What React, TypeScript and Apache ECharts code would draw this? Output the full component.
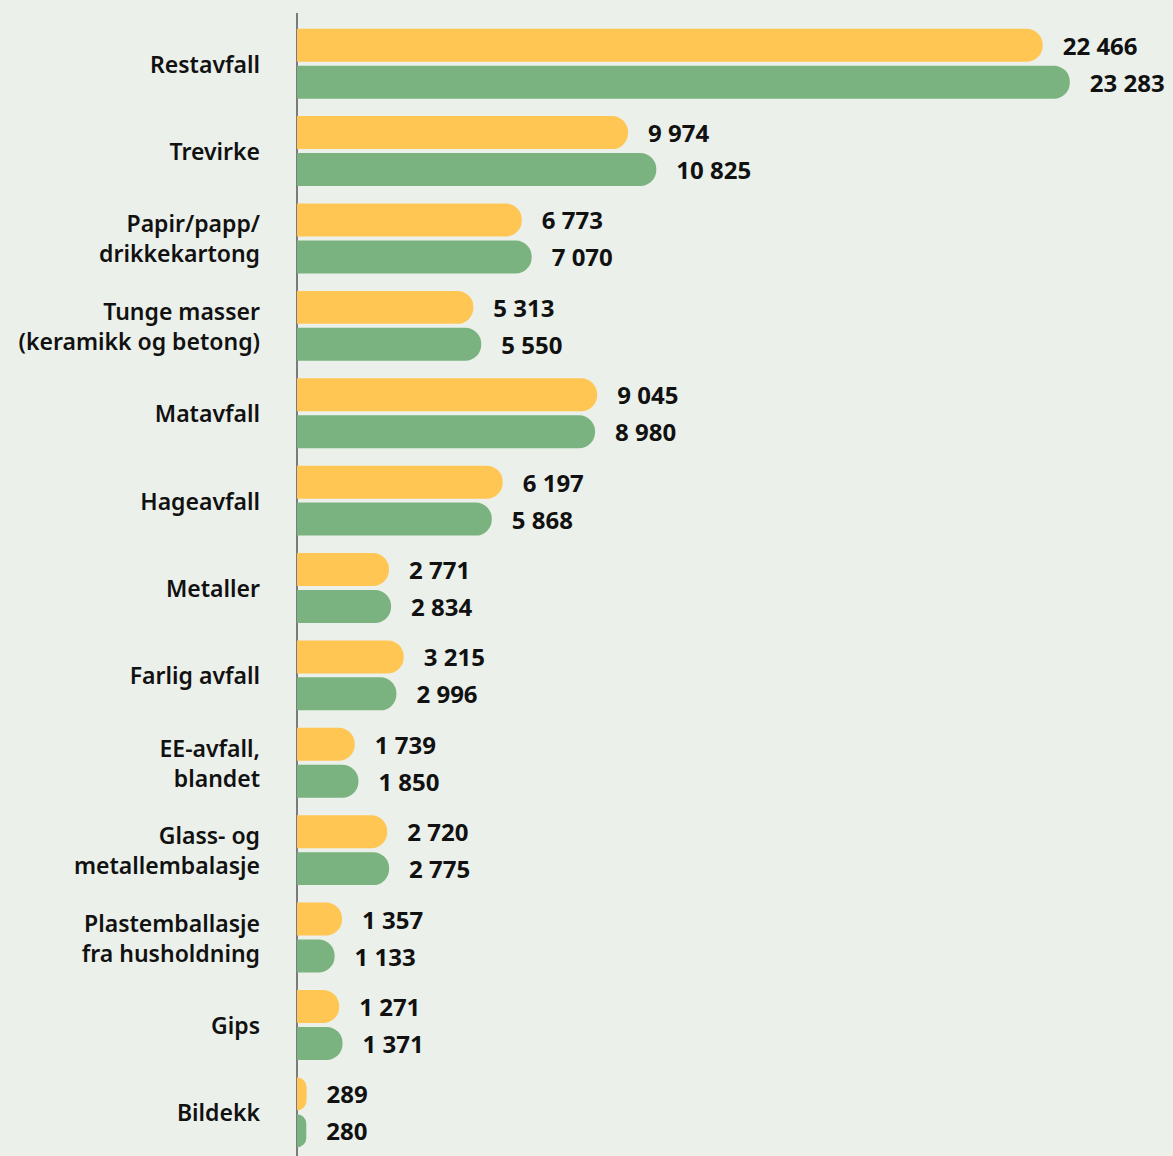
import React, { useEffect, useRef } from "react";
import * as echarts from "echarts";

const categories = [
  "Restavfall",
  "Trevirke",
  "Papir/papp/\ndrikkekartong",
  "Tunge masser\n(keramikk og betong)",
  "Matavfall",
  "Hageavfall",
  "Metaller",
  "Farlig avfall",
  "EE-avfall,\nblandet",
  "Glass- og\nmetallembalasje",
  "Plastemballasje\nfra husholdning",
  "Gips",
  "Bildekk",
];

const seriesNames = ["2022", "2023"];
const valuesYellow = [22466, 9974, 6773, 5313, 9045, 6197, 2771, 3215, 1739, 2720, 1357, 1271, 289];
const valuesGreen = [23283, 10825, 7070, 5550, 8980, 5868, 2834, 2996, 1850, 2775, 1133, 1371, 280];

const FONT = "'Noto Sans', sans-serif";

const fmt = (v: number) => String(v).replace(/\B(?=(\d{3})+(?!\d))/g, " ");

export default function App() {
  const ref = useRef<HTMLDivElement>(null);
  useEffect(() => {
    if (!ref.current) return;
    const chart = echarts.init(ref.current, null, { renderer: "svg" });
    const label = {
      show: true,
      position: "right",
      distance: 20,
      color: "#111111",
      fontFamily: FONT,
      fontWeight: 700,
      fontSize: 24,
      formatter: (p: any) => fmt(p.value),
    };
    chart.setOption({
      animation: false,
      backgroundColor: "#ebf0ea",
      grid: { left: 297, top: 20, width: 863, height: 1140 },
      graphic: [
        {
          type: "line",
          shape: { x1: 297, y1: 13, x2: 297, y2: 1156 },
          style: { stroke: "#555555", lineWidth: 1.5 },
          silent: true,
        },
      ],
      xAxis: {
        type: "value",
        min: 0,
        max: 26000,
        show: false,
        splitLine: { show: false },
      },
      yAxis: {
        type: "category",
        inverse: true,
        data: categories,
        axisLine: { show: false },
        axisTick: { show: false },
        axisLabel: {
          margin: 37,
          color: "#111111",
          fontFamily: FONT,
          fontWeight: 600,
          fontSize: 23,
          lineHeight: 30,
          align: "right",
        },
      },
      series: [
        {
          name: seriesNames[0],
          type: "bar",
          data: valuesYellow,
          barCategoryGap: "20%",
          barGap: "12%",
          itemStyle: { color: "#ffc654", borderRadius: [0, 16, 16, 0] },
          label,
        },
        {
          name: seriesNames[1],
          type: "bar",
          data: valuesGreen,
          barCategoryGap: "20%",
          barGap: "12%",
          itemStyle: { color: "#7ab37f", borderRadius: [0, 16, 16, 0] },
          label,
        },
      ],
    });
    return () => chart.dispose();
  }, []);
  return (
    <div
      ref={ref}
      style={{ position: "fixed", left: 0, top: 0, width: 1173, height: 1156 }}
    />
  );
}
